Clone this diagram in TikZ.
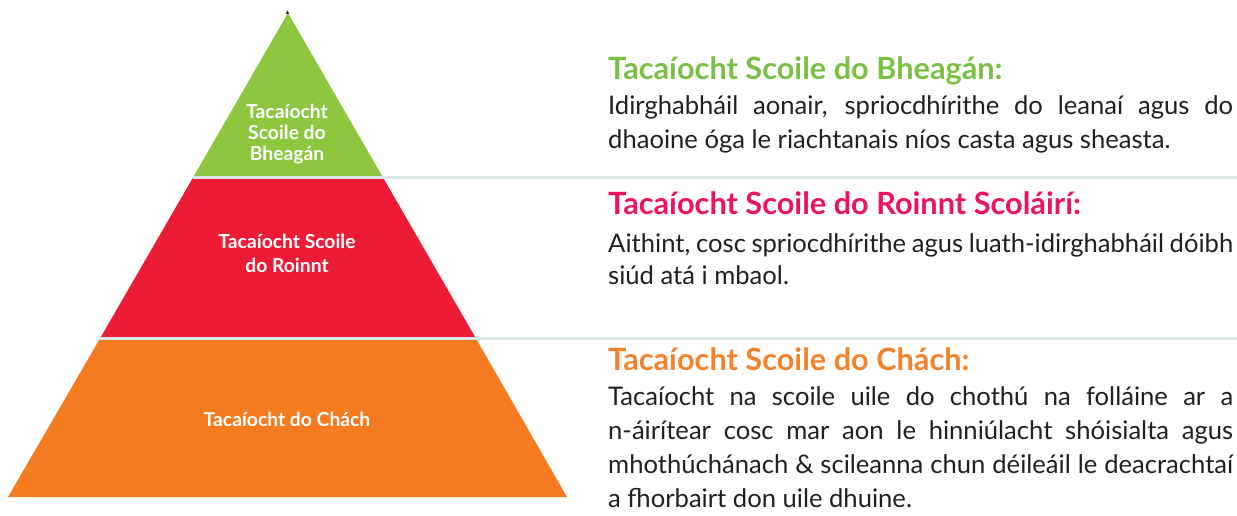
\documentclass[tikz,border=0pt]{standalone}
\usepackage{fontspec}
\setmainfont{Lato}
\definecolor{pgreen}{HTML}{8DC63F}
\definecolor{pred}{HTML}{ED1C36}
\definecolor{porange}{HTML}{F47B20}
\definecolor{hgreen}{HTML}{7AC143}
\definecolor{hred}{HTML}{EC1559}
\definecolor{horange}{HTML}{F4822A}
\definecolor{bodytxt}{HTML}{231F20}
\definecolor{sepline}{HTML}{DCE5E8}
\tikzset{
  tierlabel/.style={text=white, font=\fontsize{19.3}{23}\selectfont\bfseries, inner sep=0pt, anchor=base},
  heading/.style={font=\fontsize{30.7}{36}\selectfont\bfseries, inner sep=0pt, anchor=base west},
  bodyline/.style={text=bodytxt, font=\fontsize{25.6}{33}\selectfont, inner sep=0pt, anchor=base west},
  sep/.style={draw=sepline, line width=3pt}
}
\newcommand{\jline}[1]{\makebox[625pt][s]{#1}}
\begin{document}
\begin{tikzpicture}[x=1pt,y=-1pt]
\useasboundingbox (0,0) rectangle (1237,516);
% pyramid geometry
\coordinate (apex) at (288,13);
\coordinate (gl) at (193,177.5);
\coordinate (gr) at (383,177.5);
\coordinate (rl) at (100,338.5);
\coordinate (rr) at (476,338.5);
\coordinate (bl) at (8,497);
\coordinate (br) at (567,497);
\fill[pgreen] (apex) -- (gr) -- (gl) -- cycle;
\fill[pred] (gl) -- (gr) -- (rr) -- (rl) -- cycle;
\fill[porange] (rl) -- (rr) -- (br) -- (bl) -- cycle;
\fill[black!80] (287.5,10.5) -- (289.3,14) -- (285.7,14) -- cycle;
% separators
\coordinate (s1e) at (1237,177.5);
\coordinate (s2e) at (1237,338.5);
\draw[sep] (gl) -- (s1e);
\draw[sep] (rl) -- (s2e);
% tier labels
\node[tierlabel] (g1) at (287,118.5) {Tacaíocht};
\node[tierlabel] (g2) at (287,139.5) {Scoile do};
\node[tierlabel] (g3) at (287,160.5) {Bheagán};
\node[tierlabel] (r1) at (287,248.5) {Tacaíocht Scoile};
\node[tierlabel] (r2) at (287,272) {do Roinnt};
\node[tierlabel] (o1) at (287,426) {Tacaíocht do Chách};
% block 1
\node[heading, text=hgreen] (h1) at (608,80) {Tacaíocht Scoile do Bheagán:};
\node[bodyline] (b11) at (608,115) {\jline{Idirghabháil aonair, spriocdhírithe do leanaí agus do}};
\node[bodyline] (b12) at (608,149) {dhaoine óga le riachtanais níos casta agus sheasta.};
% block 2
\node[heading, text=hred] (h2) at (608,214) {Tacaíocht Scoile do Roinnt Scoláirí:};
\node[bodyline] (b21) at (608,252) {\jline{Aithint, cosc spriocdhírithe agus luath-idirghabháil dóibh}};
\node[bodyline] (b22) at (608,284) {siúd atá i mbaol.};
% block 3
\node[heading, text=horange] (h3) at (608,370) {Tacaíocht Scoile do Chách:};
\node[bodyline] (b31) at (608,405) {\jline{Tacaíocht na scoile uile do chothú na folláine ar a}};
\node[bodyline] (b32) at (608,439) {\jline{n-áirítear cosc mar aon le hinniúlacht shóisialta agus}};
\node[bodyline] (b33) at (608,473) {\jline{mhothúchánach \& scileanna chun déileáil le deacrachtaí}};
\node[bodyline] (b34) at (608,507) {a fhorbairt don uile dhuine.};
\end{tikzpicture}
\end{document}
